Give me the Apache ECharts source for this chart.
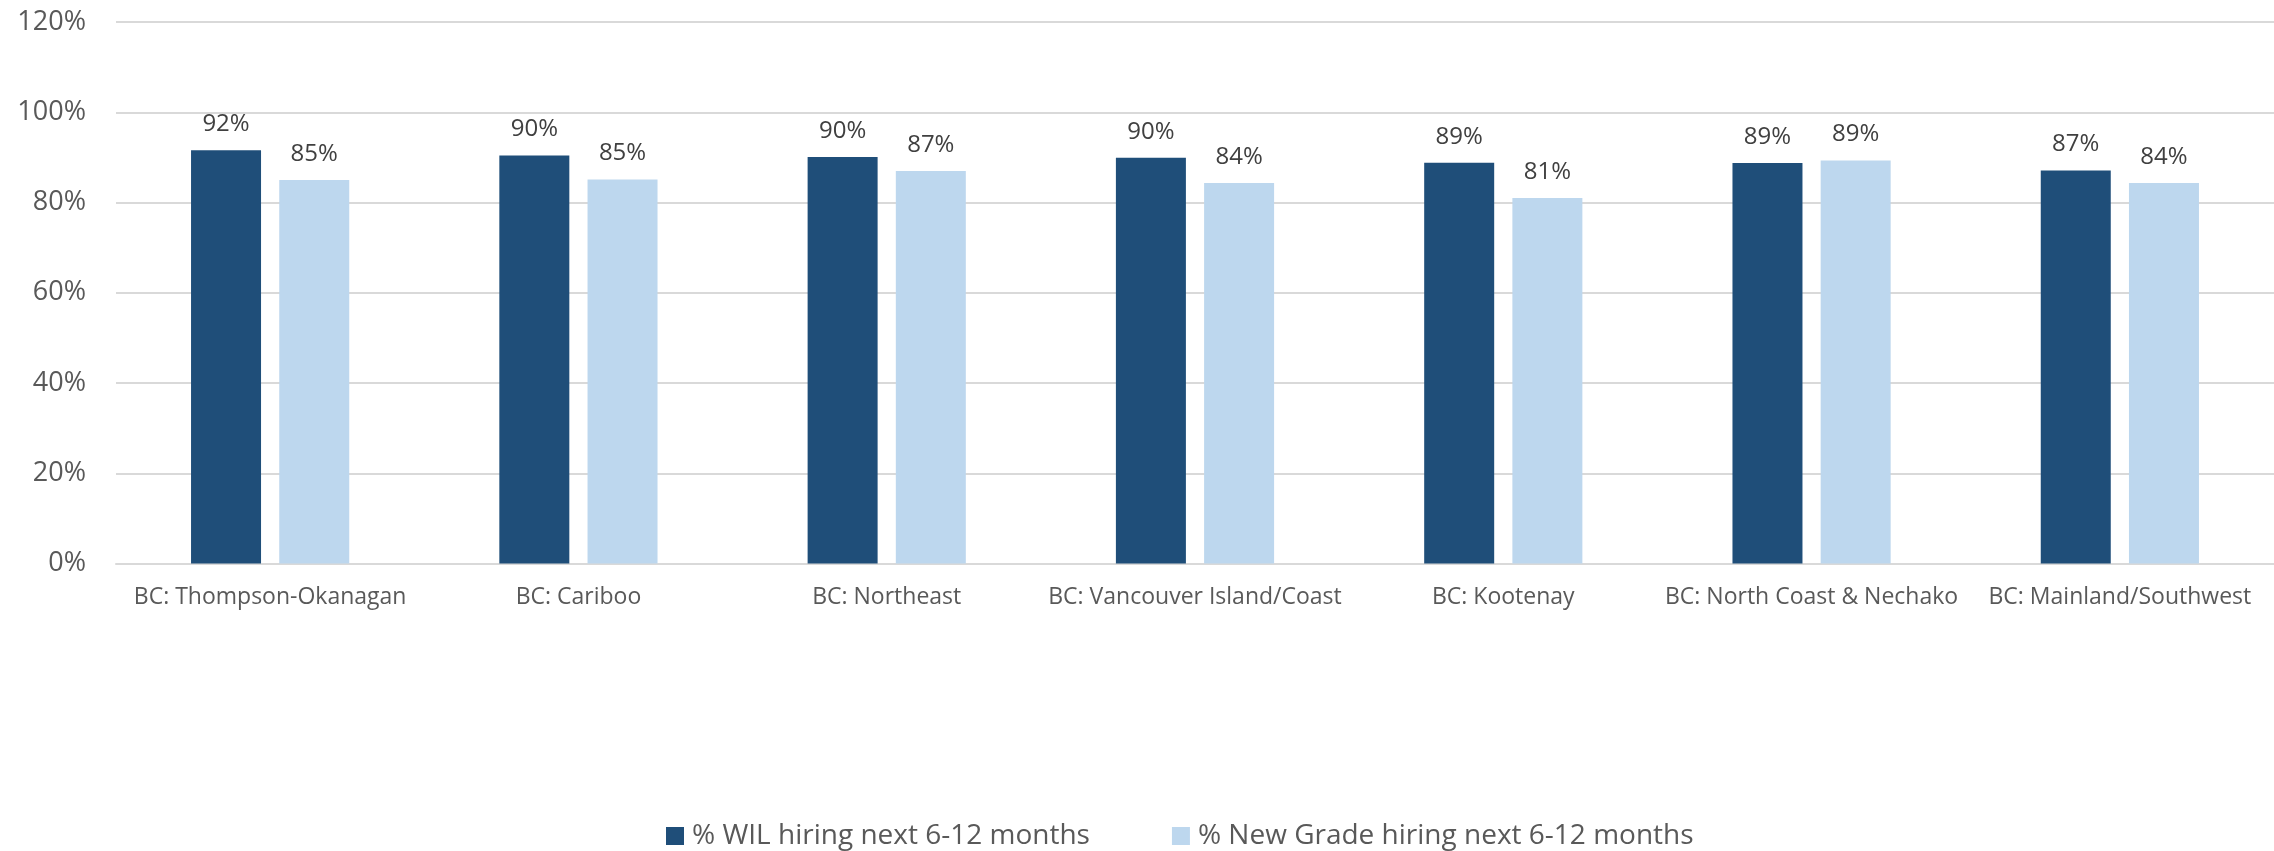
<!DOCTYPE html>
<html>
<head>
<meta charset="utf-8">
<script src="https://cdn.jsdelivr.net/npm/echarts@6/dist/echarts.min.js"></script>
<style>
  html, body { margin: 0; padding: 0; background: #ffffff; }
  #chart { width: 2274px; height: 851px; }
</style>
</head>
<body>
<div id="chart"></div>
<script>
const categories = [
  "BC: Thompson-Okanagan",
  "BC: Cariboo",
  "BC: Northeast",
  "BC: Vancouver Island/Coast",
  "BC: Kootenay",
  "BC: North Coast & Nechako",
  "BC: Mainland/Southwest"
];
const wilHiring = [91.6, 90.4, 90.1, 89.9, 88.8, 88.75, 87.1];
const newGradHiring = [85.0, 85.1, 87.0, 84.3, 81.0, 89.3, 84.3];
const seriesNames = ["% WIL hiring next 6-12 months", "% New Grade hiring next 6-12 months"];
const yTicks = [0, 20, 40, 60, 80, 100, 120];

const FONT = "'Open Sans', 'Noto Sans', sans-serif";
const chart = echarts.init(document.getElementById('chart'), null, { renderer: 'canvas' });

const labelCfg = {
  show: true,
  position: 'top',
  distance: 14,
  color: '#404040',
  fontFamily: FONT,
  fontSize: 24,
  formatter: p => Math.round(p.value) + '%'
};

chart.setOption({
  animation: false,
  backgroundColor: '#ffffff',
  grid: { left: 116, right: 0, top: 22, bottom: 287.5, containLabel: false },
  legend: {
    left: 661,
    top: 817,
    itemWidth: 18,
    itemHeight: 18,
    itemGap: 82,
    icon: 'rect',
    textStyle: { fontFamily: FONT, fontSize: 28, color: '#595959', padding: [0, 0, 0, 3] },
    data: seriesNames
  },
  xAxis: {
    type: 'category',
    data: categories,
    axisLine: { show: true, lineStyle: { color: '#D9D9D9', width: 2 } },
    axisTick: { show: false },
    axisLabel: {
      interval: 0,
      margin: 22,
      color: '#595959',
      fontFamily: FONT,
      fontSize: 23,
      lineHeight: 23
    }
  },
  yAxis: {
    type: 'value',
    min: yTicks[0],
    max: yTicks[yTicks.length - 1],
    interval: yTicks[1] - yTicks[0],
    axisLine: { show: false },
    axisTick: { show: false },
    splitLine: { lineStyle: { color: '#D9D9D9', width: 2 } },
    axisLabel: {
      margin: 30,
      color: '#595959',
      fontFamily: FONT,
      fontSize: 27,
      formatter: v => v + '%'
    }
  },
  series: [
    {
      name: seriesNames[0],
      type: 'bar',
      data: wilHiring,
      barWidth: 70,
      barGap: '26%',
      itemStyle: { color: '#1F4E79' },
      label: labelCfg
    },
    {
      name: seriesNames[1],
      type: 'bar',
      data: newGradHiring,
      barWidth: 70,
      barGap: '26%',
      itemStyle: { color: '#BDD7EE' },
      label: labelCfg
    }
  ]
});
</script>
</body>
</html>
